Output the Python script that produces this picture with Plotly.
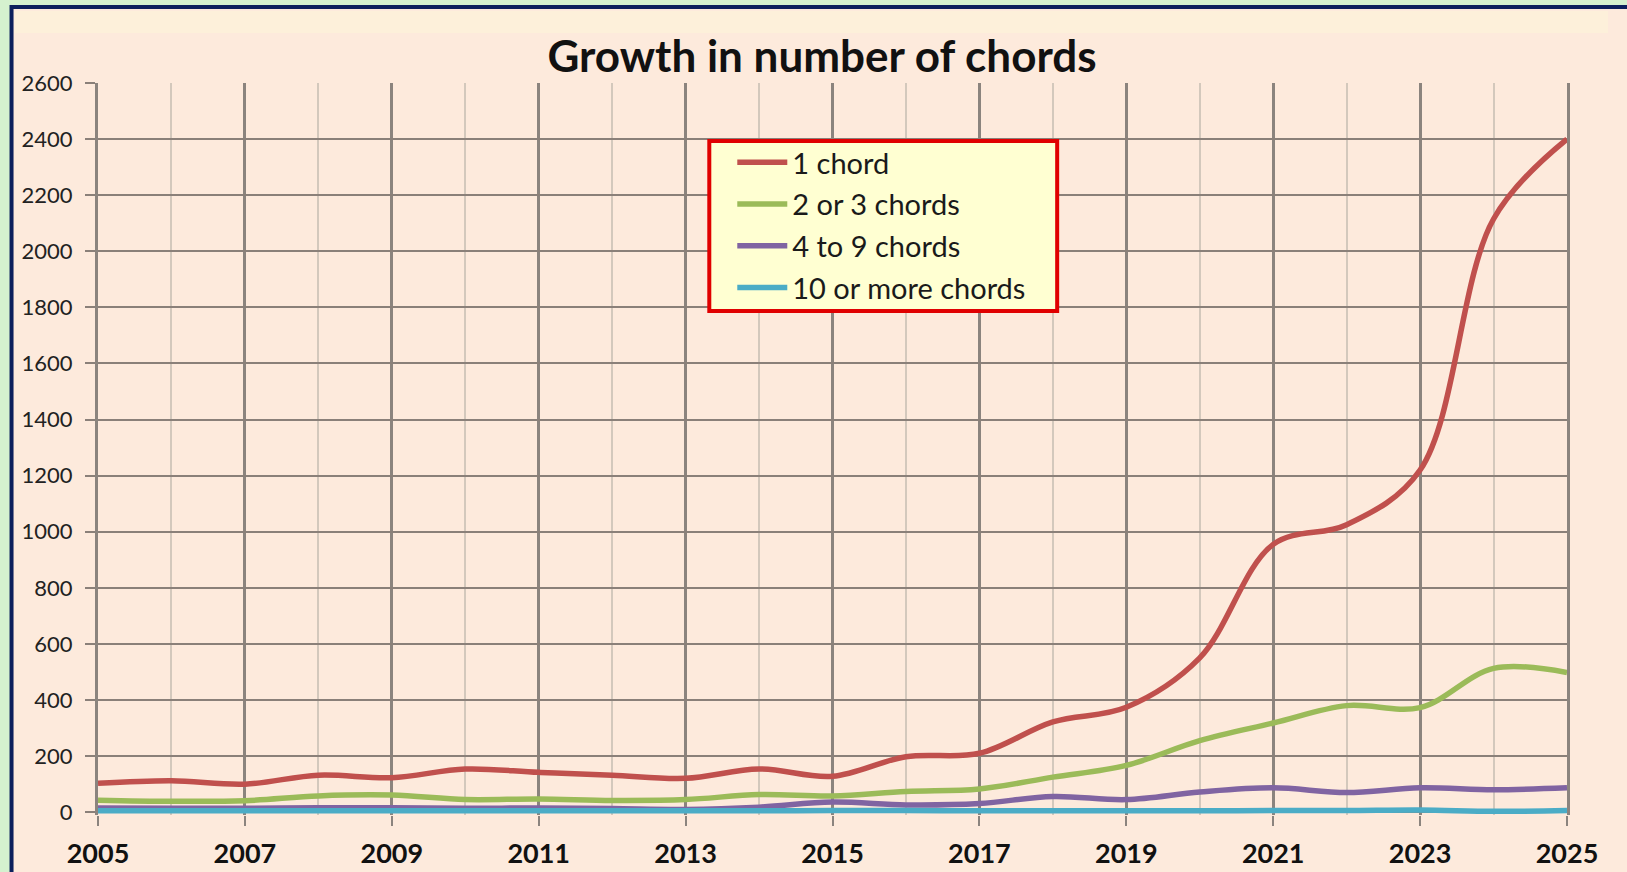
import plotly.graph_objects as go

# ---------------- data ----------------
years = [2005, 2006, 2007, 2008, 2009, 2010, 2011, 2012, 2013, 2014, 2015,
         2016, 2017, 2018, 2019, 2020, 2021, 2022, 2023, 2024, 2025]
one_chord = [103, 112, 100, 132, 123, 154, 142, 132, 121, 154, 128,
             198, 210, 322, 374, 550, 955, 1025, 1220, 2115, 2400]
two_three = [43, 39, 41, 58, 61, 45, 47, 42, 45, 63, 58,
             74, 83, 125, 167, 255, 318, 380, 373, 513, 498]
four_nine = [15, 14, 14, 16, 16, 14, 15, 13, 10, 18, 36,
             26, 31, 56, 45, 72, 87, 70, 87, 80, 87]
ten_more = [5, 5, 5, 5, 5, 5, 5, 5, 5, 5, 6,
            6, 5, 5, 5, 5, 6, 6, 8, 3, 6]
series_names = ["1 chord", "2 or 3 chords", "4 to 9 chords", "10 or more chords"]
series_colors = ["#c0504d", "#9bbb59", "#8064a2", "#4bacc6"]
y_ticks = list(range(0, 2601, 200))
title_text = "Growth in number of chords"

# ---------------- layout geometry (pixels) ----------------
W, H = 1627, 872
PL, PR, PT, PB = 97.5, 1567, 83, 815   # plot area in px


def px_x(px):
    return (px - PL) / (PR - PL)


def px_y(py):
    return (PB - py) / (PB - PT)


FONT = "Lato, 'Open Sans', sans-serif"
PEACH = "#fdeadc"
MAJOR = "#8b847e"
HGRID = "#8a8079"
MINOR = "#d3c8bc"
GREEN = "#d5f1cf"

fig = go.Figure()
for name, vals, col in zip(series_names, [one_chord, two_three, four_nine, ten_more], series_colors):
    fig.add_trace(go.Scatter(
        x=years, y=vals, name=name, mode="lines",
        line=dict(color=col, width=5.5, shape="spline", smoothing=1.0),
        legendgroup=name,
    ))

shapes = [
    # peach chart area with navy frame
    dict(type="rect", xref="paper", yref="paper", layer="below",
         x0=px_x(11), x1=px_x(1660), y0=px_y(900), y1=px_y(7),
         fillcolor=PEACH, line=dict(color="#0c1f5c", width=4)),
    # faint yellow band near the top
    dict(type="rect", xref="paper", yref="paper", layer="below",
         x0=px_x(14), x1=px_x(1608), y0=px_y(33), y1=px_y(11),
         fillcolor="#fdf0da", line=dict(width=0)),
    # legend box
    dict(type="rect", xref="paper", yref="paper", layer="above",
         x0=px_x(709), x1=px_x(1057), y0=px_y(311), y1=px_y(141),
         fillcolor="#ffffd2", line=dict(color="#e00000", width=4)),
]

fig.update_layout(
    width=W, height=H,
    margin=dict(l=PL, r=W - PR, t=PT, b=H - PB, pad=0, autoexpand=False),
    paper_bgcolor=GREEN,
    plot_bgcolor=PEACH,
    font=dict(family=FONT, color="#1a1a1a"),
    title=dict(text="<b>" + title_text + "</b>", x=822 / W, xref="container", xanchor="center",
               y=1 - 57 / H, yref="container", yanchor="middle", automargin=False,
               font=dict(family=FONT, size=44, color="#111111")),
    showlegend=True,
    legend=dict(x=px_x(732), y=px_y(137), xanchor="left", yanchor="top",
                bgcolor="rgba(0,0,0,0)", borderwidth=0, itemwidth=50,
                font=dict(family=FONT, size=29, color="#1a1a1a"),
                traceorder="grouped", tracegroupgap=1),
    shapes=shapes,
    xaxis=dict(range=[2005, 2025], tick0=2005, dtick=2, tickmode="linear",
               showgrid=True, gridcolor=MAJOR, gridwidth=3,
               ticks="outside", ticklen=10, tickwidth=2, tickcolor=MAJOR,
               tickfont=dict(family=FONT, size=27, color="#111111", weight="bold"),
               ticklabelstandoff=5, automargin=False,
               minor=dict(dtick=1, tick0=2005, showgrid=True, gridcolor=MINOR, gridwidth=1.5, ticks=""),
               zeroline=False, showline=False, fixedrange=True),
    yaxis=dict(range=[-10, 2600], tickmode="array", tickvals=y_ticks,
               showgrid=True, gridcolor=HGRID, gridwidth=2,
               ticks="outside", ticklen=10, tickwidth=2, tickcolor=HGRID,
               tickfont=dict(family=FONT, size=22, color="#222222"),
               ticklabelstandoff=8, automargin=False,
               showline=True, mirror=True, linecolor=MAJOR, linewidth=3,
               zeroline=False, fixedrange=True),
)

fig.write_html(
    "out.html",
    config={"displayModeBar": False},
    post_script="document.body.style.margin='0';document.body.style.background='" + GREEN + "';",
)
